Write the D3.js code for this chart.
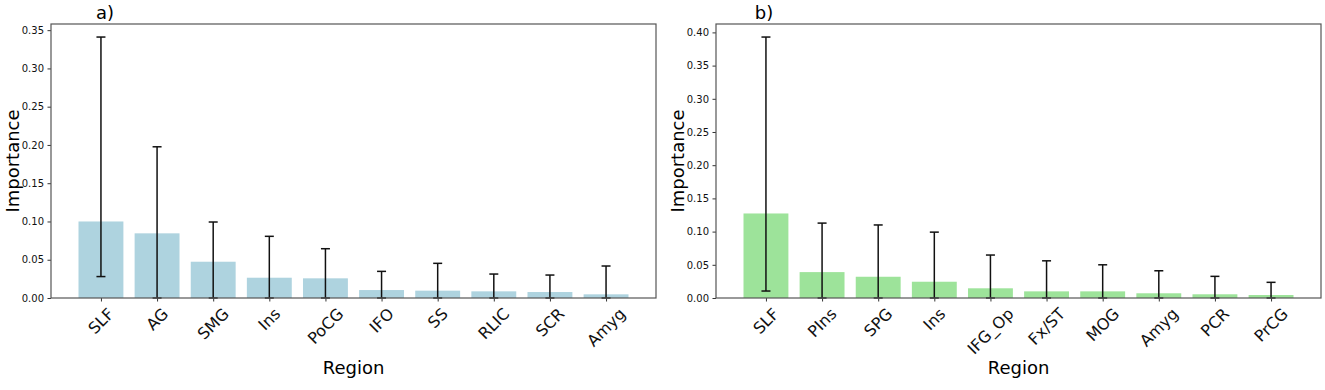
<!DOCTYPE html>
<html>
<head>
<meta charset="utf-8">
<script src="https://cdn.jsdelivr.net/npm/d3@7"></script>
<style>
  body { margin: 0; background: #fff; }
  text { font-family: "DejaVu Sans", sans-serif; }
</style>
</head>
<body>
<div id="chart"></div>
<script>
// panel a)
let regionsA = ["SLF", "AG", "SMG", "Ins", "PoCG", "IFO", "SS", "RLIC", "SCR", "Amyg"];
let importanceA = [0.100, 0.0845, 0.0474, 0.0265, 0.0257, 0.0104, 0.0096, 0.0087, 0.0078, 0.0048];
let errLowA = [0.028, 0, 0, 0, 0, 0, 0, 0, 0, 0];
let errHighA = [0.341, 0.1976, 0.0993, 0.0806, 0.0644, 0.0348, 0.0453, 0.0313, 0.030, 0.0418];
let yTicksA = [0, 0.05, 0.10, 0.15, 0.20, 0.25, 0.30, 0.35];

// panel b)
let regionsB = ["SLF", "PIns", "SPG", "Ins", "IFG_Op", "Fx/ST", "MOG", "Amyg", "PCR", "PrCG"];
let importanceB = [0.1273, 0.039, 0.032, 0.0245, 0.0146, 0.010, 0.010, 0.0071, 0.0056, 0.0045];
let errLowB = [0.0105, 0, 0, 0, 0, 0, 0, 0, 0, 0];
let errHighB = [0.393, 0.1128, 0.110, 0.0992, 0.0647, 0.056, 0.050, 0.041, 0.0326, 0.0236];
let yTicksB = [0, 0.05, 0.10, 0.15, 0.20, 0.25, 0.30, 0.35, 0.40];

let svg = d3
  .select("#chart")
  .append("svg")
  .attr("width", 1325)
  .attr("height", 390);

let drawPanel = (opts) => {
  let { left, right, top, bottom, regions, values, lo, hi, yTicks, color, title, titleX } = opts;
  let n = regions.length;

  // matplotlib-like 5% margin around the bars
  let x0 = -0.4, x1 = n - 1 + 0.4;
  let pad = (x1 - x0) * 0.05;
  let x = d3.scaleLinear().domain([x0 - pad, x1 + pad]).range([left, right]);
  let y = d3.scaleLinear().domain([0, d3.max(hi) * 1.05]).range([bottom, top]);

  let data = regions.map((r, i) => ({ i, r, v: values[i], lo: lo[i], hi: hi[i] }));
  let g = svg.append("g");

  g.selectAll(".bar")
    .data(data)
    .join("rect")
    .attr("x", (d) => x(d.i - 0.4))
    .attr("width", (d) => x(d.i + 0.4) - x(d.i - 0.4))
    .attr("y", (d) => y(d.v))
    .attr("height", (d) => y(0) - y(d.v))
    .attr("fill", color);

  // error bars
  let eb = g.selectAll(".err").data(data).join("g");
  eb.append("line")
    .attr("x1", (d) => x(d.i))
    .attr("x2", (d) => x(d.i))
    .attr("y1", (d) => y(d.lo))
    .attr("y2", (d) => y(d.hi))
    .attr("stroke", "#111")
    .attr("stroke-width", 1.5);
  ["lo", "hi"].forEach((k) => {
    eb.append("line")
      .attr("x1", (d) => x(d.i) - 4.5)
      .attr("x2", (d) => x(d.i) + 4.5)
      .attr("y1", (d) => y(d[k]))
      .attr("y2", (d) => y(d[k]))
      .attr("stroke", "#111")
      .attr("stroke-width", 1.5);
  });

  // y axis
  let ya = g.append("g")
    .attr("transform", `translate(${left},0)`)
    .call(d3.axisLeft(y).tickValues(yTicks).tickFormat(d3.format(".2f")).tickSize(3.5).tickPadding(3.5))
    .call((a) => a.select(".domain").remove());
  ya.selectAll("text").style("font-size", "10px").attr("fill", "#111");
  ya.selectAll("line").attr("stroke", "#333");

  // x axis ticks only; labels drawn below, rotated 45deg
  g.append("g")
    .attr("transform", `translate(0,${bottom})`)
    .call(d3.axisBottom(x).tickValues(d3.range(n)).tickFormat("").tickSize(3.5))
    .call((a) => a.select(".domain").remove())
    .selectAll("line")
    .attr("stroke", "#333");

  let labels = g.append("g")
    .selectAll("g")
    .data(data)
    .join("g");
  labels.append("text")
    .attr("text-anchor", "middle")
    .attr("dy", "0.35em")
    .attr("fill", "#111")
    .attr("font-size", 16)
    .text((d) => d.r);
  labels.attr("transform", function (d) {
    let w = this.querySelector("text").getComputedTextLength();
    let half = ((w + 14) * Math.SQRT1_2) / 2;
    return `translate(${x(d.i)},${bottom + 8 + half}) rotate(-45)`;
  });

  // frame
  g.append("rect")
    .attr("x", left)
    .attr("y", top)
    .attr("width", right - left)
    .attr("height", bottom - top)
    .attr("fill", "none")
    .attr("stroke", "#555")
    .attr("stroke-width", 1.2);

  g.append("text")
    .attr("x", titleX)
    .attr("y", 19)
    .attr("text-anchor", "middle")
    .attr("font-size", 18)
    .text(title);

  g.append("text")
    .attr("x", (left + right) / 2)
    .attr("y", 374)
    .attr("text-anchor", "middle")
    .attr("font-size", 18)
    .text("Region");

  g.append("text")
    .attr("transform", `translate(${left - 32},${(top + bottom) / 2}) rotate(-90)`)
    .attr("text-anchor", "middle")
    .attr("font-size", 18)
    .text("Importance");
};

drawPanel({
  left: 51, right: 656, top: 24, bottom: 298,
  regions: regionsA, values: importanceA, lo: errLowA, hi: errHighA,
  yTicks: yTicksA, color: "#aed3df", title: "a)", titleX: 105,
});

drawPanel({
  left: 716, right: 1321, top: 24, bottom: 298,
  regions: regionsB, values: importanceB, lo: errLowB, hi: errHighB,
  yTicks: yTicksB, color: "#9de39a", title: "b)", titleX: 764,
});
</script>
</body>
</html>
